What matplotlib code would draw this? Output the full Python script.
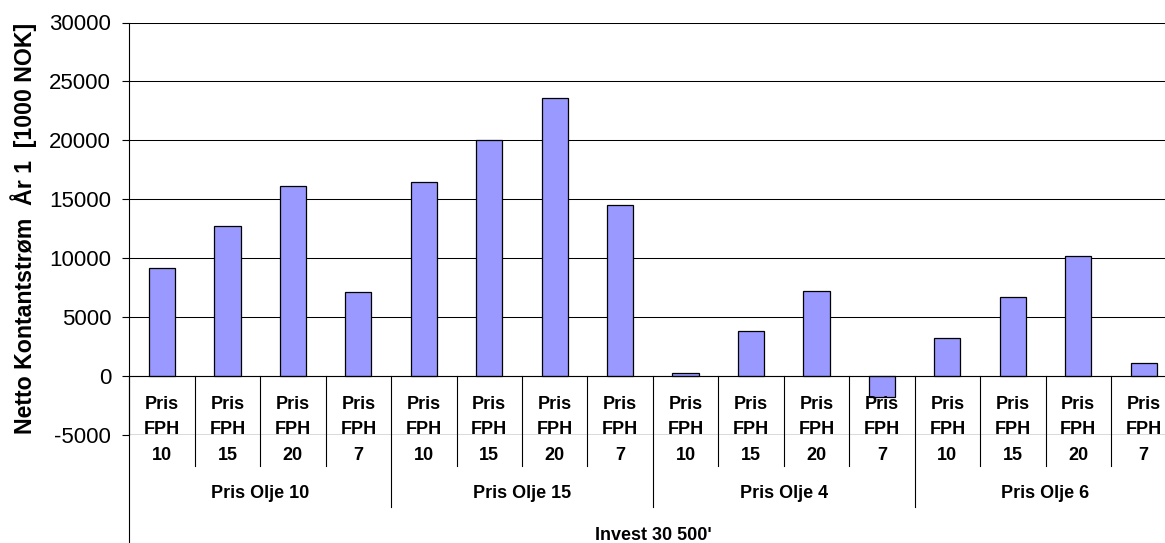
import matplotlib
matplotlib.use("Agg")
import matplotlib.pyplot as plt

plt.rcParams['font.family'] = ['Liberation Sans', 'DejaVu Sans']
plt.rcParams['axes.unicode_minus'] = False

# data
oil_groups = ["Pris Olje 10", "Pris Olje 15", "Pris Olje 4", "Pris Olje 6"]
fph_prices = ["10", "15", "20", "7"]
cash_olje10 = [9200, 12700, 16100, 7100]
cash_olje15 = [16500, 20000, 23600, 14500]
cash_olje4 = [300, 3800, 7200, -1800]
cash_olje6 = [3200, 6700, 10200, 1100]
outer_label = "Invest 30 500'"
y_label = "Netto Kontantstrøm  År 1  [1000 NOK]"

values = cash_olje10 + cash_olje15 + cash_olje4 + cash_olje6
n = len(values)
xpos = [i + 0.5 for i in range(n)]

W, H = 1165, 543
fig = plt.figure(figsize=(W / 100, H / 100), dpi=100)
# plot area runs a bit past the right edge, like the cropped original
left_px, right_px, top_px, bot_px = 129.3, 1176.4, 22.5, 435.0
ax = fig.add_axes([left_px / W, 1 - bot_px / H, (right_px - left_px) / W, (bot_px - top_px) / H])

ax.bar(xpos, values, width=0.4, color='#9999FF', edgecolor='black', linewidth=0.9, zorder=2)

ax.set_xlim(0, n)
ax.set_ylim(-5000, 30000)
ax.set_yticks(range(-5000, 30001, 5000))
ax.tick_params(axis='y', direction='out', length=5, width=0.8, labelsize=16, pad=8)
ax.set_xticks([])

# gridlines behind the bars
ax.set_axisbelow(True)
ax.yaxis.grid(True, color='black', linewidth=0.75)

for s in ['top', 'right', 'bottom']:
    ax.spines[s].set_visible(False)
ax.spines['left'].set_linewidth(0.8)

# category axis at zero
ax.axhline(0, color='black', linewidth=0.8, zorder=2.5)
# bottom line of the plot area drawn over the labels
ax.axhline(-5000, color='black', linewidth=0.9, zorder=5)

trans = ax.get_xaxis_transform()
px = 1.0 / (bot_px - top_px)  # one pixel in axes fraction
y_zero = 5000 / 35000
lvl1_bot = -(466 - bot_px) * px
lvl2_bot = -(506.7 - bot_px) * px
fig_bot = -(H - bot_px) * px

# left axis line continues to the bottom of the picture
ax.plot([0, 0], [y_zero, fig_bot], transform=trans, color='black', lw=0.8, clip_on=False, zorder=3)

for i in range(1, n + 1):
    bottom = lvl2_bot if i % 4 == 0 else lvl1_bot
    ax.plot([i, i], [y_zero, bottom], transform=trans, color='black', lw=0.8, clip_on=False, zorder=3)

for i, x in enumerate(xpos):
    ax.text(x, -(430 - bot_px) * px, "Pris\nFPH\n" + fph_prices[i % 4], transform=trans,
            ha='center', va='center', fontsize=13, fontweight='bold', linespacing=1.68,
            clip_on=False, zorder=4)

for g, name in enumerate(oil_groups):
    ax.text(g * 4 + 2, -(494 - bot_px) * px, name, transform=trans, ha='center', va='center',
            fontsize=13, fontweight='bold', clip_on=False, zorder=4)

ax.text(n / 2, -(535 - bot_px) * px, outer_label, transform=trans, ha='center', va='center',
        fontsize=13, fontweight='bold', clip_on=False, zorder=4)

fig.text(24 / W, 1 - 228 / H, y_label, rotation=90, ha='center', va='center',
         fontsize=16.7, fontweight='bold')

fig.savefig("out.png", dpi=100)
